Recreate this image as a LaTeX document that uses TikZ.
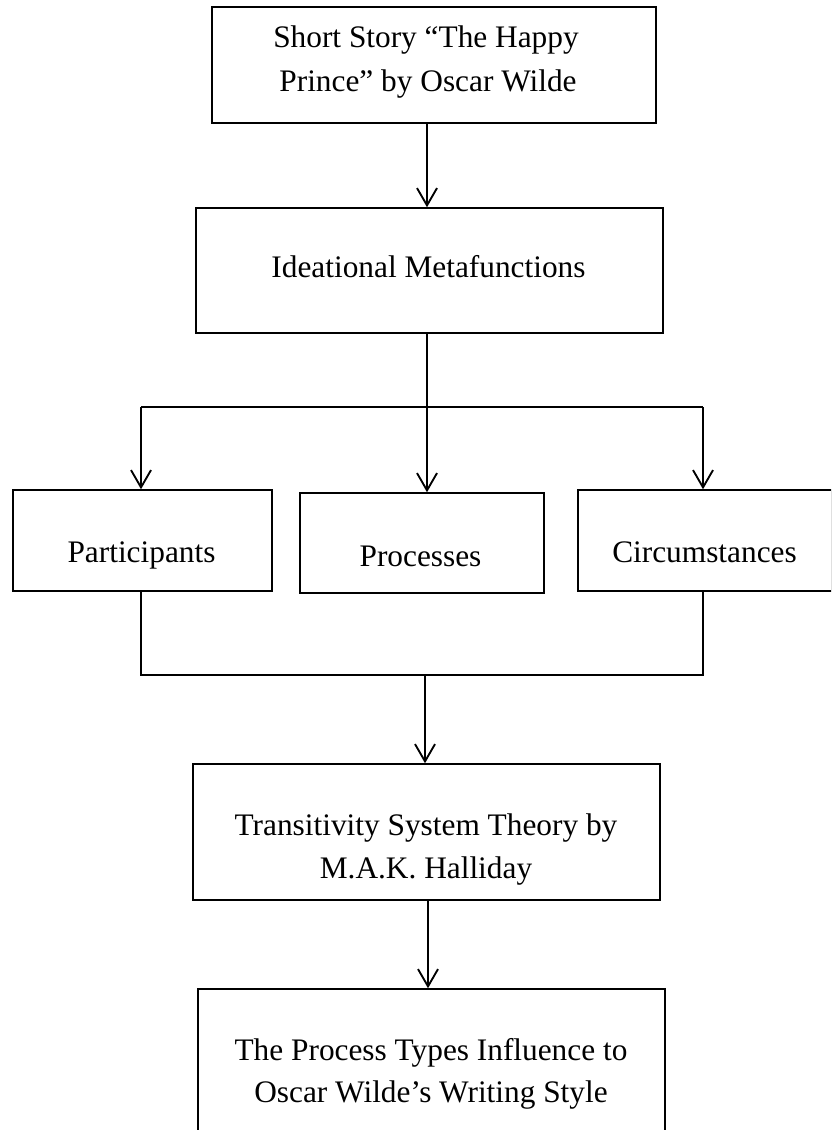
\documentclass[tikz,border=0pt]{standalone}
\usepackage{fontspec}
\setmainfont{Liberation Serif}
\usetikzlibrary{arrows.meta}

\tikzset{
  box/.style={draw, rectangle, line width=1.1pt, inner sep=0pt},
  lbl/.style={anchor=base, inner sep=0pt, font=\fontsize{23.5}{30}\selectfont},
  link/.style={line width=1.2pt},
  flow/.style={line width=1.2pt, -{Straight Barb[length=13pt,width=15pt,line width=1.4pt]}}
}

\begin{document}
\begin{tikzpicture}[x=0.75pt,y=-0.75pt,line cap=butt,line join=miter]
\useasboundingbox (0,0) rectangle (831,1130);
\clip (0,0) rectangle (831,1130);
% boxes
\node[box, minimum width=333pt, minimum height=87pt] (A) at (434,65) {};
\node[box, minimum width=350.25pt, minimum height=93.75pt] (B) at (429.5,270.5) {};
\node[box, minimum width=194.25pt, minimum height=75.75pt] (P) at (142.5,540.5) {};
\node[box, minimum width=183pt, minimum height=75pt] (Q) at (422,543) {};
\node[box, minimum width=190.5pt, minimum height=75.75pt] (C) at (705,540.5) {};
\node[box, minimum width=350.25pt, minimum height=102pt] (T) at (426.5,832) {};
\node[box, minimum width=350.25pt, minimum height=121.5pt] (D) at (431.5,1070) {};
% texts
\node[lbl] (storyA) at (426,48) {Short Story “The Happy};
\node[lbl] (storyB) at (428,92) {Prince” by Oscar Wilde};
\node[lbl] (ideational) at (428.5,278) {Ideational Metafunctions};
\node[lbl] (participants) at (141.5,562) {Participants};
\node[lbl] (processes) at (420.5,566) {Processes};
\node[lbl] (circumstances) at (704.5,562) {Circumstances};
\node[lbl] (theoryA) at (426,835) {Transitivity System Theory by};
\node[lbl] (theoryB) at (426,878) {M.A.K. Halliday};
\node[lbl] (influenceA) at (431,1060) {The Process Types Influence to};
\node[lbl] (influenceB) at (431,1102) {Oscar Wilde’s Writing Style};
% joints
\coordinate (fork) at (427,407);
\coordinate (forkL) at (141,407);
\coordinate (forkR) at (703,407);
\coordinate (merge) at (425,675);
\coordinate (mergeL) at (141,675);
\coordinate (mergeR) at (703,675);
\coordinate (drop) at (428,945);
% connectors
\draw[flow] (A.south -| fork) -- (B.north -| fork);
\draw[link] (B.south -| fork) -- (fork);
\draw[link] (forkL) -- (forkR);
\draw[flow] (forkL) -- (P.north -| forkL);
\draw[flow] (fork) -- (Q.north -| fork);
\draw[flow] (forkR) -- (C.north -| forkR);
\draw[link] (P.south -| mergeL) -- (mergeL) -- (mergeR) -- (C.south -| mergeR);
\draw[flow] (merge) -- (T.north -| merge);
\draw[flow] (T.south -| drop) -- (D.north -| drop);
\end{tikzpicture}
\end{document}
